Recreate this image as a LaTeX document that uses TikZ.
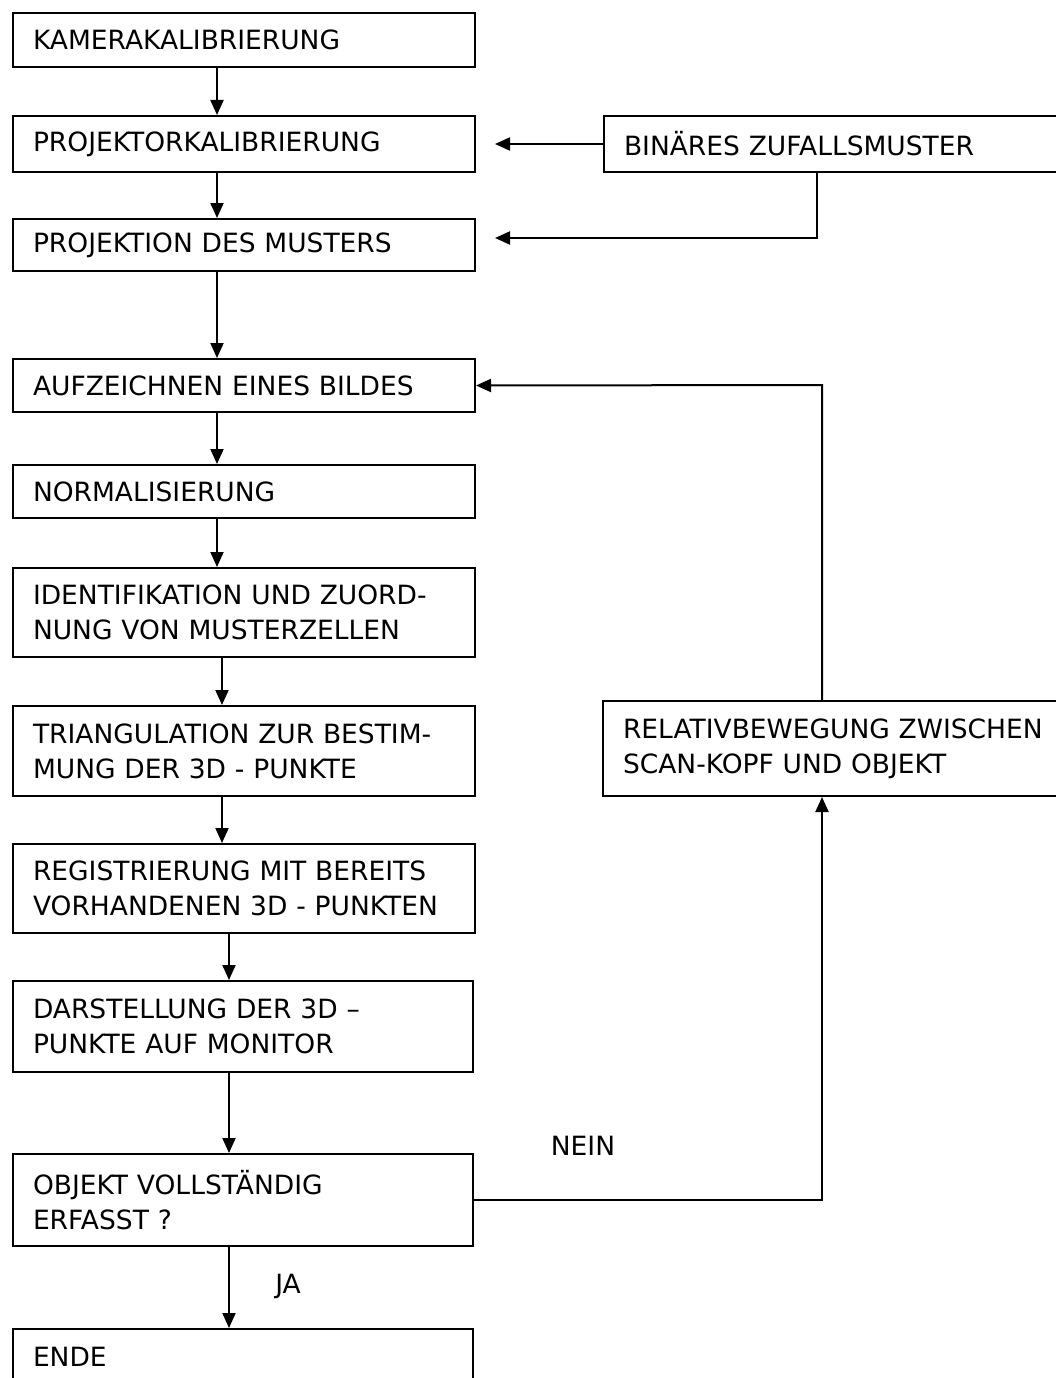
\documentclass[tikz,border=0pt]{standalone}
\usepackage{fontspec}
\setmainfont{DejaVu Sans}
\usetikzlibrary{arrows.meta}

\begin{document}
\begin{tikzpicture}[x=1pt,y=-1pt,line width=2pt,
    every node/.style={font=\fontsize{26.5}{35}\selectfont},
    box/.style={draw,rectangle,anchor=north west,align=left,inner xsep=20pt,inner ysep=0pt,text width=422pt},
    pfeil/.style={-{Triangle[length=15pt,width=13pt]}}]
                \clip (0,0) rectangle (1056,1378);

                % linke Spalte
                \node[box,minimum height=54] (kamera) at (12,12) {KAMERAKALIBRIERUNG};
                \node[box,minimum height=56] (projektor) at (12,115) {PROJEKTORKALIBRIERUNG};
                \node[box,minimum height=52] (projektion) at (12,218) {PROJEKTION DES MUSTERS};
                \node[box,minimum height=53] (aufzeichnen) at (12,358) {AUFZEICHNEN EINES BILDES};
                \node[box,minimum height=53] (normal) at (12,464) {NORMALISIERUNG};
                \node[box,minimum height=89] (ident) at (12,567) {IDENTIFIKATION UND ZUORD-\\NUNG VON MUSTERZELLEN};
                \node[box,minimum height=90] (triang) at (12,705) {TRIANGULATION ZUR BESTIM-\\MUNG DER 3D - PUNKTE};
                \node[box,minimum height=89] (regist) at (12,843) {REGISTRIERUNG MIT BEREITS\\VORHANDENEN 3D - PUNKTEN};
                \node[box,minimum height=91,text width=420] (darst) at (12,980) {DARSTELLUNG DER 3D –\\PUNKTE AUF MONITOR};
                \node[box,minimum height=92,text width=420] (objekt) at (12,1153) {OBJEKT VOLLSTÄNDIG\\ERFASST ?};
                \node[box,minimum height=56,text width=420] (ende) at (12,1328) {ENDE};

                % rechte Spalte
                \node[box,minimum height=56,text width=500] (muster) at (603,115) {BINÄRES ZUFALLSMUSTER};
                \node[box,minimum height=95,text width=500] (relativ) at (602,700) {RELATIVBEWEGUNG ZWISCHEN\\SCAN-KOPF UND OBJEKT};

                \node (nein) at (583,1146) {NEIN};
                \node (ja) at (288,1286) {JA};

                \coordinate (ein) at (495,238);
                \coordinate (knick) at (817,238);
                \coordinate (oben) at (822,385);

                % senkrechte Pfeile
                \foreach \a/\b/\x in {kamera/projektor/217, projektor/projektion/217,
                    projektion/aufzeichnen/217, aufzeichnen/normal/217, normal/ident/217,
                    ident/triang/222, triang/regist/222,
                    regist/darst/229, darst/objekt/229, objekt/ende/229}
                    \draw[pfeil] (\a.south -| \x,0) -- (\b.north -| \x,0);

                \draw[pfeil] (muster.west) -- (muster.west -| ein);
                \draw[pfeil] (knick |- muster.south) -- (knick) -- (ein);
                \draw[pfeil] (oben |- relativ.north) -- (oben) -- (aufzeichnen.east);
                \draw[pfeil] (objekt.east) -| (oben |- relativ.south);
            \end{tikzpicture}
\end{document}
